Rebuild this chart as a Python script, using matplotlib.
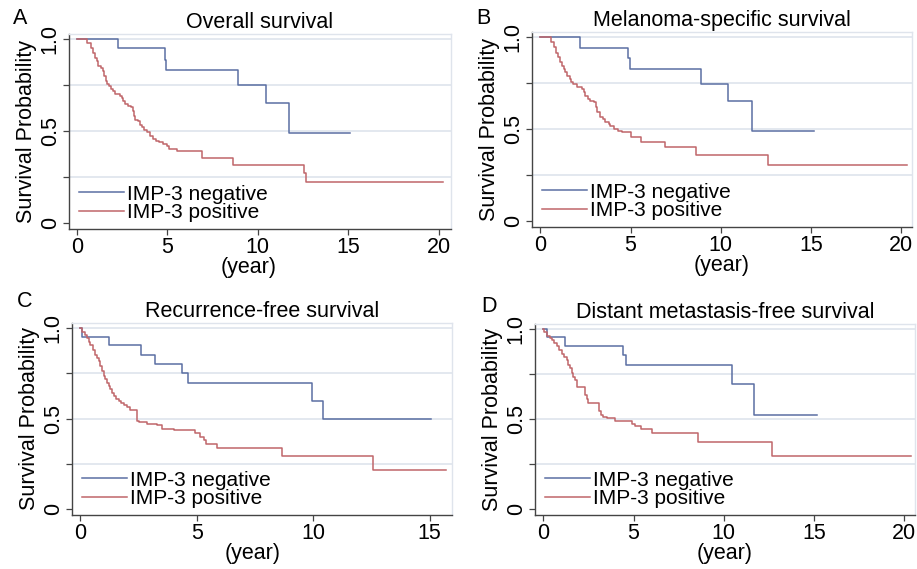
import matplotlib
matplotlib.use("Agg")
import matplotlib.pyplot as plt

plt.rcParams['font.family'] = ['Liberation Sans', 'DejaVu Sans']

# ---- data (time in years, KM survival) ----
titles = ['Overall survival', 'Melanoma-specific survival',
          'Recurrence-free survival', 'Distant metastasis-free survival']
letters = ['A', 'B', 'C', 'D']
group_labels = ['IMP-3 negative', 'IMP-3 positive']
y_ticks = [0, 0.25, 0.5, 0.75, 1.0]
y_tick_labels = ['0', '', '0.5', '', '1.0']
x_ticks_long = [0, 5, 10, 15, 20]
x_ticks_short = [0, 5, 10, 15]

A_neg_t = [0, 2.25, 4.88, 4.95, 8.89, 10.44, 11.70, 15.10]
A_neg_s = [1.0, 0.951, 0.889, 0.832, 0.750, 0.655, 0.489, 0.489]
A_pos_t = [0, 0.55, 0.76, 0.87, 1.00, 1.09, 1.18, 1.31, 1.42, 1.49,
           1.59, 1.68, 1.79, 1.86, 2.01, 2.10, 2.38, 2.47, 2.56, 2.66,
           2.84, 2.99, 3.08, 3.15, 3.23, 3.39, 3.49, 3.58, 3.71, 3.86,
           4.04, 4.19, 4.37, 4.56, 4.78, 5.00, 5.11, 5.55, 6.90, 8.60,
           12.56, 12.65, 20.24]
A_pos_s = [1.0, 0.982, 0.955, 0.928, 0.900, 0.882, 0.855, 0.846, 0.828, 0.800,
           0.774, 0.755, 0.746, 0.728, 0.719, 0.700, 0.692, 0.683, 0.665, 0.647,
           0.638, 0.629, 0.610, 0.583, 0.560, 0.553, 0.534, 0.520, 0.505, 0.493,
           0.475, 0.457, 0.447, 0.438, 0.429, 0.420, 0.400, 0.390, 0.354, 0.314,
           0.270, 0.223, 0.223]

B_neg_t = [0, 2.22, 4.88, 4.95, 8.93, 10.43, 11.72, 15.15]
B_neg_s = [1.0, 0.945, 0.887, 0.828, 0.746, 0.655, 0.488, 0.488]
B_pos_t = [0, 0.58, 0.74, 0.85, 0.96, 1.11, 1.20, 1.30, 1.39, 1.48,
           1.63, 1.70, 1.81, 2.04, 2.31, 2.41, 2.50, 2.63, 2.78, 2.96,
           3.06, 3.15, 3.30, 3.48, 3.61, 3.80, 3.89, 4.11, 4.30, 4.54,
           5.00, 5.56, 6.90, 8.65, 12.63, 20.30]
B_pos_s = [1.0, 0.973, 0.946, 0.918, 0.891, 0.864, 0.846, 0.828, 0.809, 0.791,
           0.773, 0.755, 0.746, 0.728, 0.719, 0.700, 0.682, 0.664, 0.655, 0.646,
           0.619, 0.592, 0.568, 0.555, 0.537, 0.528, 0.514, 0.500, 0.492, 0.483,
           0.455, 0.428, 0.401, 0.359, 0.301, 0.301]

C_neg_t = [0, 0.07, 1.21, 2.62, 3.21, 4.36, 4.64, 9.93, 10.40, 15.07]
C_neg_s = [1.0, 0.955, 0.910, 0.855, 0.805, 0.750, 0.695, 0.595, 0.500, 0.500]
C_pos_t = [0, 0.07, 0.19, 0.29, 0.36, 0.43, 0.53, 0.61, 0.71, 0.79,
           0.86, 0.93, 1.00, 1.07, 1.14, 1.21, 1.29, 1.36, 1.43, 1.53,
           1.64, 1.76, 1.86, 2.00, 2.14, 2.43, 2.50, 2.86, 3.29, 3.50,
           4.00, 4.93, 5.14, 5.31, 5.40, 5.86, 8.64, 12.57, 15.69]
C_pos_s = [1.0, 0.982, 0.964, 0.945, 0.927, 0.909, 0.881, 0.854, 0.836, 0.818,
           0.790, 0.763, 0.735, 0.717, 0.699, 0.681, 0.662, 0.644, 0.626, 0.611,
           0.598, 0.589, 0.575, 0.562, 0.549, 0.489, 0.480, 0.471, 0.462, 0.443,
           0.434, 0.420, 0.400, 0.380, 0.360, 0.339, 0.290, 0.217, 0.217]

D_neg_t = [0, 0.22, 1.20, 4.44, 4.59, 10.46, 11.70, 15.15]
D_neg_s = [1.0, 0.956, 0.910, 0.855, 0.800, 0.697, 0.523, 0.523]
D_pos_t = [0, 0.06, 0.19, 0.37, 0.50, 0.61, 0.74, 0.87, 1.02, 1.17,
           1.30, 1.39, 1.48, 1.57, 1.67, 1.76, 1.85, 2.31, 2.41, 2.50,
           3.06, 3.20, 3.33, 3.52, 3.98, 4.90, 5.10, 5.43, 6.00, 8.60,
           12.65, 20.37]
D_pos_s = [1.0, 0.983, 0.965, 0.952, 0.938, 0.923, 0.905, 0.886, 0.864, 0.846,
           0.828, 0.800, 0.782, 0.754, 0.736, 0.717, 0.681, 0.635, 0.611, 0.589,
           0.543, 0.525, 0.512, 0.506, 0.488, 0.475, 0.460, 0.446, 0.424, 0.374,
           0.294, 0.294]

panels = [
    (A_neg_t, A_neg_s, A_pos_t, A_pos_s),
    (B_neg_t, B_neg_s, B_pos_t, B_pos_s),
    (C_neg_t, C_neg_s, C_pos_t, C_pos_s),
    (D_neg_t, D_neg_s, D_pos_t, D_pos_s),
]

W, H = 917, 569
boxes = [(69, 34, 451, 229), (532, 32, 912, 227),
         (72, 323, 452, 515), (535, 324, 915, 515)]
xlims = [(-0.44, 20.68), (-0.46, 20.6), (-0.36, 15.96), (-0.46, 20.6)]
letter_pos = [(13, 19), (476, 18), (17, 302), (481, 306)]
xlabel_x = [0.471, 0.5, 0.475, 0.5]

BLUE = '#5b6fa3'
RED = '#c0666a'
GRID = '#e3e8ef'
FS = 15.5

fig = plt.figure(figsize=(W / 100, H / 100), dpi=100)

for i, (nt, ns, pt, ps) in enumerate(panels):
    x0, y0, x1, y1 = boxes[i]
    ax = fig.add_axes([x0 / W, 1 - y1 / H, (x1 - x0) / W, (y1 - y0) / H])

    for g in [0.25, 0.5, 0.75, 1.0]:
        ax.axhline(g, color=GRID, lw=1.4, zorder=0)

    ax.step(nt, ns, where='post', color=BLUE, lw=1.1, label=group_labels[0])
    ax.step(pt, ps, where='post', color=RED, lw=1.1, label=group_labels[1])

    ax.set_xlim(*xlims[i])
    ax.set_ylim(-0.035, 1.03)
    ax.set_xticks(x_ticks_short if i == 2 else x_ticks_long)
    ax.set_yticks(y_ticks)
    ax.set_yticklabels(y_tick_labels, rotation=90, va='center')
    ax.tick_params(axis='both', labelsize=FS, direction='out', length=4,
                   width=0.9, color='#444444', pad=2)

    for side in ['left', 'bottom']:
        ax.spines[side].set_color('#444444')
        ax.spines[side].set_linewidth(1.0)
    for side in ['top', 'right']:
        ax.spines[side].set_color('#dfe4ec')
        ax.spines[side].set_linewidth(1.0)

    ax.set_title(titles[i], fontsize=FS, pad=4)
    ax.set_xlabel('(year)', fontsize=FS, labelpad=-1, x=xlabel_x[i])
    ax.set_ylabel('Survival Probability', fontsize=FS, labelpad=2)

    ax.legend(loc='lower left', bbox_to_anchor=(0.005, -0.008), frameon=False,
              fontsize=15, handlelength=2.15, handletextpad=0.15,
              labelspacing=-0.02, borderpad=0.2, borderaxespad=0.2)

    lx, ly = letter_pos[i]
    fig.text(lx / W, 1 - ly / H, letters[i], fontsize=FS, ha='left', va='center')

fig.savefig('out.png', dpi=100)
